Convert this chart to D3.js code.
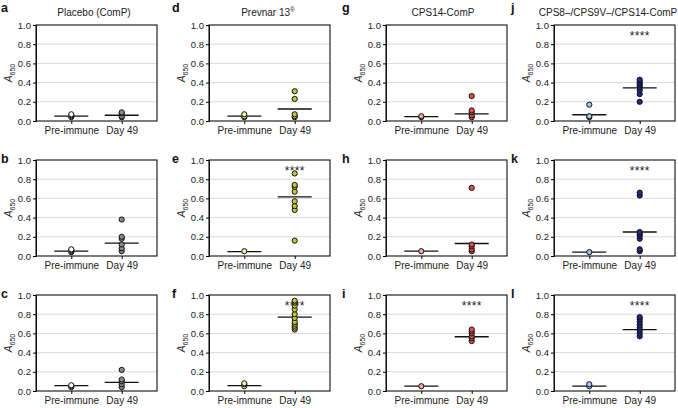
<!DOCTYPE html>
<html><head><meta charset="utf-8">
<script src="https://cdn.jsdelivr.net/npm/d3@7"></script>
<style>body{margin:0;background:#fff}svg{display:block;font-family:"Liberation Sans",Arial,sans-serif}</style>
</head><body><svg id="chart" width="678" height="408"></svg>
<script>
// ---- data ----
const groups = ["Pre-immune", "Day 49"];
const yTicks = [0, 0.2, 0.4, 0.6, 0.8, 1.0];
const panelLetters = ["a","b","c","d","e","f","g","h","i","j","k","l"];
const columnTitles = ["Placebo (ComP)", "Prevnar 13", "CPS14-ComP", "CPS8–/CPS9V–/CPS14-ComP"];
const titleSuperscripts = ["", "®", "", ""];
const preFill = ["#ffffff", "#f2f0a4", "#f4a8a8", "#a3c6ea"];
const dayFill = ["#8a8a8a", "#c8c43c", "#de4f4f", "#1d2b8e"];
// panels in order a,b,c,d,e,f,g,h,i,j,k,l (column by column)
const preImmuneValues = [
  [0.04, 0.05, 0.06, 0.07], [0.04, 0.05, 0.06, 0.07], [0.04, 0.05, 0.06],
  [0.04, 0.05, 0.07], [0.05], [0.05, 0.07, 0.08],
  [0.04, 0.05], [0.05], [0.05],
  [0.04, 0.05, 0.17], [0.04], [0.05, 0.07]
];
const day49Values = [
  [0.04, 0.05, 0.08, 0.09], [0.05, 0.08, 0.12, 0.18, 0.20, 0.38], [0.04, 0.07, 0.10, 0.12, 0.22],
  [0.04, 0.05, 0.07, 0.23, 0.31], [0.16, 0.48, 0.52, 0.57, 0.67, 0.72, 0.74, 0.86], [0.64, 0.66, 0.68, 0.70, 0.72, 0.76, 0.80, 0.85, 0.89, 0.92, 0.94],
  [0.04, 0.06, 0.09, 0.11, 0.26], [0.05, 0.07, 0.10, 0.12, 0.71], [0.52, 0.55, 0.57, 0.60, 0.62, 0.64],
  [0.20, 0.28, 0.32, 0.35, 0.37, 0.39, 0.41, 0.43], [0.05, 0.07, 0.18, 0.21, 0.23, 0.25, 0.63, 0.66], [0.57, 0.60, 0.63, 0.66, 0.69, 0.72, 0.75, 0.77]
];
const preImmuneLine = [0.05, 0.05, 0.055, 0.05, 0.045, 0.055, 0.045, 0.05, 0.05, 0.065, 0.04, 0.05];
const day49Line = [0.06, 0.135, 0.09, 0.125, 0.615, 0.77, 0.075, 0.13, 0.565, 0.345, 0.25, 0.64];
const significance = ["", "", "", "", "****", "****", "", "", "****", "****", "****", "****"];

// ---- layout ----
const svg = d3.select("#chart");
const colLeft = [36, 209, 386, 554];
const plotW = 121;
const rowTop = [25, 160, 295];
const plotH = 96;
const letterX = [1, 172, 342, 511];
const titleCenter = [94, 268, 443, 608];

for (let c = 0; c < 4; c++) {
  // column title
  const t = svg.append("text").attr("x", titleCenter[c]).attr("y", 16).attr("text-anchor", "middle")
    .attr("font-size", 10).attr("fill", "#222").text(columnTitles[c]);
  if (titleSuperscripts[c]) t.append("tspan").attr("font-size", 6.5).attr("dy", -4).text(titleSuperscripts[c]);

  for (let r = 0; r < 3; r++) {
    const i = c * 3 + r;
    const x0 = colLeft[c], y0 = rowTop[r];
    const g = svg.append("g");
    const x = d3.scalePoint().domain(groups).range([x0, x0 + plotW]).padding(0.7);
    const y = d3.scaleLinear().domain([0, 1]).range([y0 + plotH, y0]);

    // grid
    g.selectAll("line.grid").data(yTicks.filter(v => v > 0 && v < 1)).enter().append("line")
      .attr("x1", x0).attr("x2", x0 + plotW).attr("y1", d => y(d)).attr("y2", d => y(d))
      .attr("stroke", "#d9d9d9").attr("stroke-width", 1);

    // frame
    g.append("rect").attr("x", x0).attr("y", y0).attr("width", plotW).attr("height", plotH)
      .attr("fill", "none").attr("stroke", "#111").attr("stroke-width", 1.1);

    // y axis
    const ya = g.append("g").attr("transform", `translate(${x0},0)`)
      .call(d3.axisLeft(y).tickValues(yTicks).tickFormat(d3.format(".1f")).tickSize(3).tickPadding(2));
    ya.select(".domain").attr("stroke", "#111");
    ya.selectAll("text").attr("font-size", 9.5).attr("fill", "#222").attr("font-family", "Liberation Sans, Arial, sans-serif");

    // x axis
    const xa = g.append("g").attr("transform", `translate(0,${y0 + plotH})`)
      .call(d3.axisBottom(x).tickSize(3).tickPadding(3));
    xa.select(".domain").remove();
    xa.selectAll("text").attr("font-size", 10).attr("fill", "#222").attr("font-family", "Liberation Sans, Arial, sans-serif");

    // y label
    const yl = g.append("text").attr("transform", `translate(${x0 - 24},${y0 + plotH / 2}) rotate(-90)`)
      .attr("text-anchor", "middle").attr("font-size", 10).attr("fill", "#222");
    yl.append("tspan").attr("font-style", "italic").text("A");
    yl.append("tspan").attr("font-size", 7).attr("dy", 2.5).text("650");

    // mean lines
    const lines = [[groups[0], preImmuneLine[i]], [groups[1], day49Line[i]]];
    g.selectAll("line.m").data(lines).enter().append("line")
      .attr("x1", d => x(d[0]) - 17).attr("x2", d => x(d[0]) + 17)
      .attr("y1", d => y(d[1])).attr("y2", d => y(d[1]))
      .attr("stroke", "#111").attr("stroke-width", 1.3);

    // points
    const pts = preImmuneValues[i].map(v => ({ g: groups[0], v, f: preFill[c] }))
      .concat(day49Values[i].map(v => ({ g: groups[1], v, f: dayFill[c] })));
    g.selectAll("circle").data(pts).enter().append("circle")
      .attr("cx", d => x(d.g)).attr("cy", d => y(d.v)).attr("r", 2.6)
      .attr("fill", d => d.f).attr("stroke", "#111").attr("stroke-width", 1);

    // significance
    if (significance[i]) {
      g.append("text").attr("x", x(groups[1])).attr("y", y(0.91) + 6.5).attr("text-anchor", "middle")
        .attr("font-size", 12).attr("fill", "#222").attr("letter-spacing", 0.3).text(significance[i]);
    }

    // panel letter
    svg.append("text").attr("x", letterX[c]).attr("y", r === 0 ? 12 : y0 + 3)
      .attr("font-size", 12.5).attr("font-weight", "bold").attr("fill", "#111").text(panelLetters[i]);
  }
}
</script></body></html>
